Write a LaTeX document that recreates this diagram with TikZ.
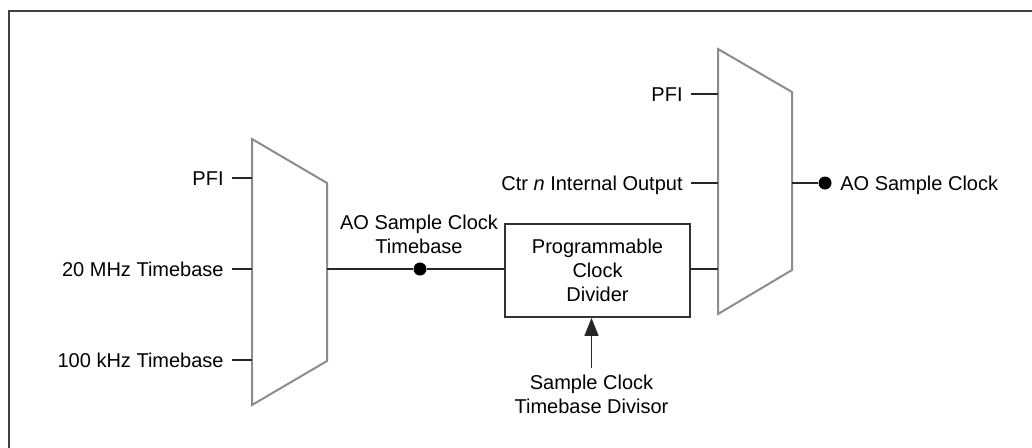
\documentclass[tikz,border=0pt]{standalone}
\usepackage{fontspec}
\setmainfont{Liberation Sans}
\usetikzlibrary{positioning,arrows.meta}
\begin{document}
\begin{tikzpicture}[x=0.5pt,y=-0.5pt,
    font=\fontsize{10}{12}\selectfont,
    wire/.style={line width=0.75pt,draw=black!85},
    muxshape/.style={line width=1pt,draw=black!45},
    inlbl/.style={anchor=east,inner sep=4pt,text height=7.2pt,text depth=0pt},
    multilbl/.style={align=center,anchor=base,inner sep=0pt},
    tap/.style={circle,fill=black,inner sep=0pt,minimum size=6.5pt},
    divbox/.style={draw=black!80,line width=0.9pt,minimum width=92.5pt,
      minimum height=46.5pt,align=center,inner sep=0pt}]

  % canvas and frame
  \useasboundingbox (0,0) rectangle (1032,447);
  \draw[line width=1pt,black!75] (9,460) -- (9,11) -- (1045,11);

  % left multiplexer
  \draw[muxshape] (252,139) -- (327,183) -- (327,361) -- (252,405) -- cycle;
  \coordinate (muxA-in1) at (252,178);
  \coordinate (muxA-in2) at (252,269);
  \coordinate (muxA-in3) at (252,360);
  \coordinate (muxA-out) at (327,269);

  % right multiplexer
  \draw[muxshape] (718,49) -- (792,92) -- (792,270) -- (718,314) -- cycle;
  \coordinate (muxB-in1) at (718,94);
  \coordinate (muxB-in2) at (718,183);
  \coordinate (muxB-in3) at (718,269);
  \coordinate (muxB-out) at (792,183);

  % inputs of the left multiplexer
  \node[inlbl] (pfiA) at (232,178) {PFI};
  \node[inlbl] (mhz) at (232,269) {20 MHz Timebase};
  \node[inlbl] (khz) at (232,360) {100 kHz Timebase};
  \draw[wire] (pfiA.east) -- (muxA-in1);
  \draw[wire] (mhz.east) -- (muxA-in2);
  \draw[wire] (khz.east) -- (muxA-in3);

  % timebase and clock divider
  \node[divbox] (divider) at (597.5,270.5) {Programmable\\Clock\\Divider};
  \node[tap] (tbdot) at (420,269) {};
  \node[multilbl] (tblabel) at (419,253) {AO Sample Clock\\Timebase};
  \draw[wire] (muxA-out) -- (tbdot) -- (tbdot -| divider.west);

  % divisor input
  \node[multilbl] (divlabel) at (591.5,413) {Sample Clock\\Timebase Divisor};
  \coordinate (divtail) at ([yshift=3pt]divlabel.north);
  \draw[wire,-{Triangle[length=9pt,width=7pt]}] (divtail) -- (divtail |- divider.south);

  % inputs of the right multiplexer
  \node[inlbl] (pfiB) at (691,94) {PFI};
  \node[inlbl] (ctr) at (691,183) {Ctr \textit{n} Internal Output};
  \draw[wire] (pfiB.east) -- (muxB-in1);
  \draw[wire] (ctr.east) -- (muxB-in2);
  \draw[wire] (divider.east |- muxB-in3) -- (muxB-in3);

  % output
  \node[tap] (clkdot) at (825,183) {};
  \node[inlbl,anchor=west,right=0pt of clkdot] (clklabel) {AO Sample Clock};
  \draw[wire] (muxB-out) -- (clkdot);
\end{tikzpicture}
\end{document}
